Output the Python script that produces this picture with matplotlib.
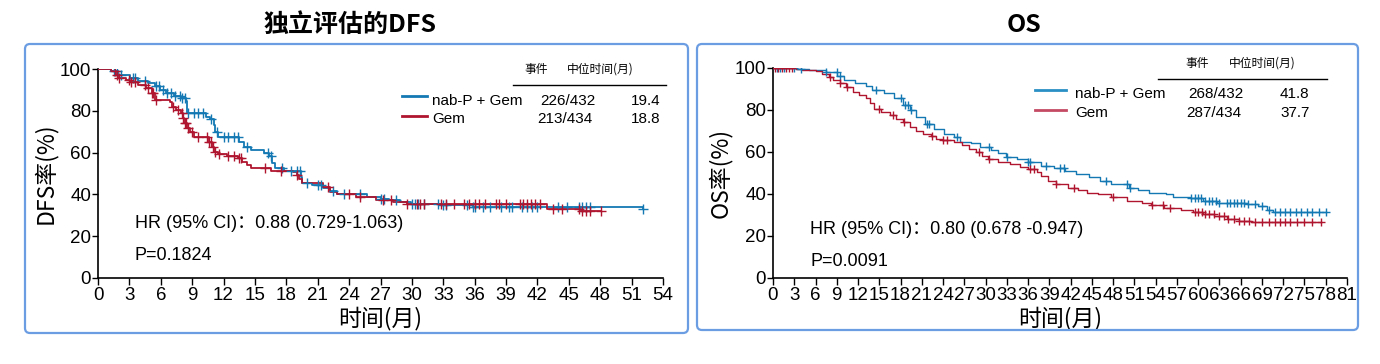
import numpy as np
import matplotlib
matplotlib.use("Agg")
import matplotlib.pyplot as plt
from matplotlib.patches import FancyBboxPatch
from matplotlib.transforms import IdentityTransform

plt.rcParams['font.family'] = ['Liberation Sans', 'Noto Sans CJK SC', 'DejaVu Sans']
CJK = ['Noto Sans CJK SC', 'Liberation Sans', 'DejaVu Sans']

BLUE = '#1479b3'
RED = '#b0152f'

# ---- DFS (independent review) ----
dfs_blue_t = [0, 1.25, 1.9, 3.1, 3.8, 4.8, 5.4, 5.9, 6.5, 7.3, 7.9, 8.4, 8.5, 10.3, 10.7, 11.1, 11.2,
              11.5, 13.5, 14.0, 14.6, 15.9, 16.3, 16.6, 16.9, 17.8, 19.4, 19.5, 20.5, 21.5, 22.2, 22.8,
              25.7, 27.0, 27.8, 28.9, 29.9, 32.8, 35.8, 52.1]
dfs_blue_s = [100, 99, 97, 95.5, 94.4, 93.5, 91.9, 90, 88.3, 87, 86, 84.8, 78.8, 77, 75.9, 73.2, 70,
              67.6, 65.2, 62.8, 61.2, 59.9, 58.3, 54.8, 52.4, 51.3, 48.4, 45.5, 44.4, 43.3, 41.7, 40.4,
              38.8, 38.0, 37.2, 36.4, 35.3, 34.8, 34.0, 33.2]
dfs_blue_cens = [1.5, 1.8, 2.2, 3.3, 3.5, 4.5, 5.5, 5.8, 6.2, 6.6, 7.0, 7.4, 7.8, 8.0, 8.3, 8.6, 9.2, 9.6,
                 10.0, 10.8, 11.4, 12.0, 12.4, 13.0, 13.4, 14.2, 16.2, 16.5, 17.6, 18.4, 19.0, 19.3, 20.0,
                 21.0, 21.3, 22.5, 23.5, 25.0, 27.0, 27.3, 28.5, 30.0, 30.3, 30.6, 31.2, 32.5, 33.0, 33.3,
                 35.3, 35.8, 36.0, 36.8, 37.5, 38.5, 39.3, 39.6, 40.5, 41.0, 41.5, 42.0, 44.0, 44.8, 46.0,
                 46.3, 46.6, 47.0, 52.1]

dfs_red_t = [0, 1.25, 1.7, 1.9, 2.7, 3.1, 3.8, 4.6, 5.2, 5.4, 6.9, 7.1, 7.5, 7.9, 8.1, 8.2, 8.5, 8.8,
             9.2, 10.6, 10.9, 11.1, 11.5, 12.3, 13.4, 13.8, 14.2, 14.6, 16.5, 18.6, 19.0, 19.2, 19.5,
             21.5, 22.2, 22.8, 24.7, 26.6, 28.2, 29.5, 42.9, 46.2, 48.1]
dfs_red_s = [100, 99, 97, 95.5, 94.7, 93.9, 92.3, 90.7, 88.3, 85.1, 84.3, 81.9, 80.4, 78.8, 76.4, 74,
             71.6, 70, 67.6, 65.2, 62.8, 60.4, 59.3, 58.3, 57.2, 55.6, 54, 52.4, 51.3, 50.8, 49.2, 47.6,
             45.5, 43.6, 41.2, 40.4, 38.8, 37.5, 36.4, 35.3, 33.2, 32.1, 32.1]
dfs_red_cens = [1.6, 1.8, 2.0, 3.0, 3.2, 3.5, 4.5, 4.8, 5.2, 5.3, 5.5, 7.2, 7.6, 8.0, 8.1, 8.3, 8.4, 8.6,
                9.0, 9.6, 10.4, 10.6, 10.8, 11.0, 11.2, 11.6, 12.4, 13.0, 13.5, 13.7, 16.0, 17.5, 19.0,
                22.0, 24.0, 25.0, 27.2, 28.0, 29.5, 30.5, 30.8, 31.2, 32.8, 33.3, 34.0, 35.0, 35.5, 36.0,
                36.4, 37.0, 38.0, 38.3, 39.0, 40.3, 40.6, 41.0, 41.4, 41.8, 42.2, 43.5, 44.3, 46.0, 46.3,
                46.6, 47.0, 48.1]

# ---- OS ----
os_blue_t = [0, 3.2, 5.1, 7.5, 9.1, 10.0, 11.6, 13.1, 14.0, 15.6, 17.1, 18.4, 19.3, 20.2, 21.5, 22.7,
             24.2, 25.5, 26.4, 28.0, 29.2, 30.7, 31.7, 32.9, 34.4, 36.0, 37.8, 39.7, 41.2, 42.8, 44.6,
             46.2, 47.7, 50.2, 51.5, 53.0, 55.5, 56.4, 58.9, 60.7, 62.6, 66.9, 68.5, 69.7, 70.6, 78.0]
os_blue_s = [100, 99.5, 98.9, 97.9, 96.3, 94.4, 92.8, 91.5, 89.6, 88, 85.6, 82.3, 79.9, 76.7, 73.5, 71.1,
             68.7, 67.1, 64.7, 64.2, 62.6, 61, 59.4, 57.8, 56.7, 55.1, 53.5, 52.3, 51, 49.4, 48.2, 46.2,
             44.6, 43, 41.7, 40.6, 39.8, 38.5, 37.9, 36.9, 35.8, 35.3, 34.2, 32.6, 31.5, 31.5]
os_blue_cens = [0.5, 1.0, 1.5, 3.0, 4.0, 7.5, 9.0, 9.5, 14.6, 18.0, 18.6, 19.0, 19.5, 21.7, 22.0, 26.0,
                30.5, 33.0, 36.0, 36.3, 38.5, 40.5, 41.0, 47.0, 50.0, 50.4, 59.0, 59.5, 60.0, 60.4, 61.0,
                61.5, 62.0, 62.5, 63.0, 64.0, 64.5, 65.0, 65.5, 66.0, 66.5, 67.0, 68.0, 69.0, 70.0, 70.8,
                71.5, 72.3, 73.0, 73.8, 74.5, 75.3, 76.0, 77.0, 78.0]

os_red_t = [0, 3.2, 4.1, 6.0, 6.9, 7.9, 8.5, 9.4, 10.3, 11.3, 12.2, 13.1, 13.7, 14.3, 15.3, 16.5, 17.4,
            18.4, 19.3, 20.2, 21.2, 22.3, 23.0, 23.9, 25.5, 26.7, 27.6, 28.6, 29.5, 30.4, 31.7, 33.5,
            34.8, 36.0, 37.2, 37.8, 38.8, 40.0, 41.6, 43.1, 44.3, 45.9, 47.7, 49.9, 52.1, 53.3, 55.2,
            57.6, 59.2, 60.7, 62.3, 64.1, 65.7, 67.5, 77.4]
os_red_s = [100, 99.5, 98.9, 98.4, 97.3, 95.7, 94.4, 92.8, 90.9, 88.8, 87.2, 85.6, 83.1, 80.7, 79.1, 77.5,
            75.9, 74.3, 71.9, 70, 68.7, 67.4, 66.3, 65.5, 64.7, 63.1, 61.5, 59.9, 58.3, 56.7, 55.1, 54.3,
            53, 51.8, 50.7, 48.6, 46.2, 44.6, 43, 41.7, 40.6, 39.8, 38.5, 36.9, 35.8, 34.7, 33.4, 32.6,
            31.5, 30.5, 29.4, 28.3, 27.3, 26.6, 26.6]
os_red_cens = [0.3, 0.7, 1.2, 1.8, 2.3, 2.7, 8.0, 9.5, 10.5, 15.0, 17.0, 18.5, 22.5, 24.0, 24.5, 29.0,
               30.5, 36.2, 36.8, 40.0, 42.5, 48.0, 53.5, 55.0, 56.0, 59.5, 60.0, 60.5, 61.0, 61.5, 62.2,
               63.0, 63.6, 64.2, 65.0, 65.8, 66.5, 67.2, 68.0, 69.0, 70.0, 70.8, 71.5, 72.2, 73.0, 74.0,
               75.0, 76.0, 77.4]

groups = ['nab-P + Gem', 'Gem']
dfs_events = ['226/432', '213/434']
dfs_median = ['19.4', '18.8']
os_events = ['268/432', '287/434']
os_median = ['41.8', '37.7']


def km(ax, t, s, cens, color, lw, ms):
    t = np.asarray(t, float)
    s = np.asarray(s, float)
    ax.step(t, s, where='post', color=color, lw=lw, zorder=3)
    c = np.asarray(cens, float)
    idx = np.searchsorted(t, c, side='right') - 1
    ax.plot(c, s[idx], ls='none', marker='+', color=color, ms=ms, mew=1.0, zorder=4)


def style(ax, xmax, ylabel):
    ax.set_xlim(0, xmax)
    ax.set_ylim(0, 100)
    ax.set_xticks(range(0, xmax + 1, 3))
    ax.set_yticks(range(0, 101, 20))
    for sp in ['top', 'right']:
        ax.spines[sp].set_visible(False)
    for sp in ['left', 'bottom']:
        ax.spines[sp].set_linewidth(1.2)
    ax.tick_params(axis='both', direction='out', labelsize=13.5, width=1.0)
    ax.tick_params(axis='x', length=5, pad=1.5)
    ax.tick_params(axis='y', length=4, pad=1)
    ax.set_ylabel(ylabel, fontsize=16.5, family=CJK, labelpad=2)
    ax.set_xlabel('时间(月)', fontsize=16.5, family=CJK, labelpad=2)


fig = plt.figure(figsize=(13.8, 3.64), dpi=100)

# rounded panel frames (pixel coordinates, origin bottom-left)
for x0, x1, y0, y1 in [(25, 688, 31, 320), (697, 1358, 34, 320)]:
    fig.patches.append(FancyBboxPatch((x0, y0), x1 - x0, y1 - y0,
                                      boxstyle='round,pad=0,rounding_size=5',
                                      transform=IdentityTransform(), fc='none',
                                      ec='#6b9de3', lw=1.6, zorder=0))

ax1 = fig.add_axes([98 / 1380, 86 / 364, 565 / 1380, 209 / 364])
ax2 = fig.add_axes([773 / 1380, 86 / 364, 574 / 1380, 210 / 364])

km(ax1, dfs_blue_t, dfs_blue_s, dfs_blue_cens, BLUE, 1.3, 7)
km(ax1, dfs_red_t, dfs_red_s, dfs_red_cens, RED, 1.3, 7)
km(ax2, os_blue_t, os_blue_s, os_blue_cens, BLUE, 1.0, 6)
km(ax2, os_red_t, os_red_s, os_red_cens, RED, 1.0, 6)

style(ax1, 54, 'DFS率(%)')
style(ax2, 81, 'OS率(%)')

fig.text(350 / 1380, 1 - 25 / 364, '独立评估的DFS', ha='center', va='center',
         fontsize=18, fontweight='bold', family=CJK)
fig.text(1024 / 1380, 1 - 25 / 364, 'OS', ha='center', va='center',
         fontsize=18, fontweight='bold', family=CJK)


def table(ax, x0px, y0px, xsc, ysc, hdr, rule, rows, events, median):
    # helper converting pixel layout positions to axes fraction
    fx = lambda px: (px - x0px) / xsc
    fy = lambda py: (y0px - py) / ysc
    kw = dict(transform=ax.transAxes, clip_on=False)
    ax.text(fx(hdr[0]), fy(hdr[2]), '事件', ha='center', va='center', fontsize=8.5, family=CJK, **kw)
    ax.text(fx(hdr[1]), fy(hdr[2]), '中位时间(月)', ha='center', va='center', fontsize=8.5, family=CJK, **kw)
    ax.plot([fx(rule[0]), fx(rule[1])], [fy(rule[2])] * 2, color='black', lw=1.0, **kw)
    for (lx0, lx1, ly, tx, ty, ex, mx, color), g, e, m in zip(rows, groups, events, median):
        ax.plot([fx(lx0), fx(lx1)], [fy(ly)] * 2, color=color, lw=2, **kw)
        ax.text(fx(tx), fy(ty), g, ha='left', va='center', fontsize=11, **kw)
        ax.text(fx(ex), fy(ty), e, ha='center', va='center', fontsize=11, **kw)
        ax.text(fx(mx), fy(ty), m, ha='right', va='center', fontsize=11, **kw)


table(ax1, 98, 278, 565, 209, (536, 600, 69), (513, 666, 85),
      [(402, 427, 96, 432, 101, 568, 660, BLUE), (402, 427, 116, 432, 119, 565, 660, RED)],
      dfs_events, dfs_median)
table(ax2, 773, 278, 574, 210, (1197, 1262, 63), (1158, 1327, 79),
      [(1035, 1066, 90, 1075, 94, 1216, 1309, '#2a8fc4'), (1035, 1066, 110, 1075, 113, 1214, 1310, '#c44a63')],
      os_events, os_median)

ax1.text((135 - 98) / 565, (278 - 224) / 209, 'HR (95% CI)：0.88 (0.729-1.063)', transform=ax1.transAxes,
         ha='left', va='center', fontsize=13)
ax1.text((135 - 98) / 565, (278 - 256) / 209, 'P=0.1824', transform=ax1.transAxes,
         ha='left', va='center', fontsize=13)
ax2.text((810 - 773) / 574, (278 - 229) / 210, 'HR (95% CI)：0.80 (0.678 -0.947)', transform=ax2.transAxes,
         ha='left', va='center', fontsize=13)
ax2.text((810 - 773) / 574, (278 - 261) / 210, 'P=0.0091', transform=ax2.transAxes,
         ha='left', va='center', fontsize=13)

fig.savefig('out.png', dpi=100)
